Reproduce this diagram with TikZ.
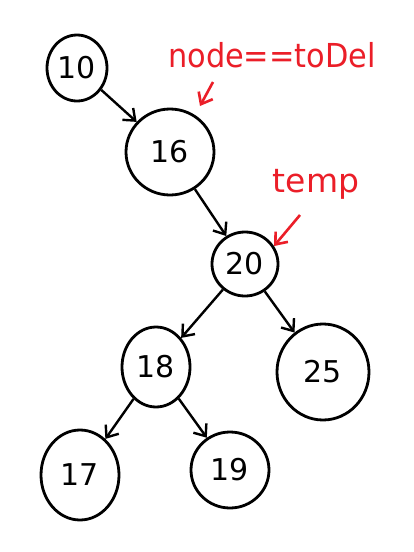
\documentclass[tikz,border=0pt]{standalone}
\usepackage{fontspec}
\setmainfont{DejaVu Sans}
\usetikzlibrary{shapes.geometric,arrows.meta}
\definecolor{penred}{RGB}{235,30,40}
\tikzset{
  treenode/.style={ellipse,draw=black,line width=2.8pt,inner sep=0pt,
    font=\fontsize{30}{30}\selectfont},
  edge/.style={draw=black,line width=2.4pt,-{Straight Barb[length=10pt,width=16pt]}},
  note/.style={text=penred,font=\fontsize{33}{33}\selectfont},
  pointer/.style={draw=penred,line width=2.6pt,-{Straight Barb[length=10pt,width=16pt]}}
}
\begin{document}
\begin{tikzpicture}[x=1pt,y=-1pt]
  \useasboundingbox[fill=white] (0,0) rectangle (413,552);
  \node[treenode,minimum width=60pt,minimum height=66pt] (n10) at (77,68) {10};
  \node[treenode,minimum width=88pt,minimum height=86pt] (n16) at (170,152) {16};
  \node[treenode,minimum width=66pt,minimum height=64pt] (n20) at (245,264) {20};
  \node[treenode,minimum width=68pt,minimum height=80pt] (n18) at (156,367) {18};
  \node[treenode,minimum width=92pt,minimum height=96pt] (n25) at (323,372) {25};
  \node[treenode,minimum width=78pt,minimum height=90pt] (n17) at (80,475) {17};
  \node[treenode,minimum width=78pt,minimum height=76pt] (n19) at (230,470) {19};

  \draw[edge] (n10) -- (n16);
  \draw[edge] (n16) -- (n20);
  \draw[edge] (n20) -- (n18);
  \draw[edge] (n20) -- (n25);
  \draw[edge] (n18) -- (n17);
  \draw[edge] (n18) -- (n19);

  \node[note,xscale=0.92] (del) at (272,55) {node==toDel};
  \node[note] (tmp) at (316,184) {temp};
  \coordinate (delTip) at (200,106);
  \coordinate (tmpTip) at (274,246);
  \draw[pointer] (213,82) -- (delTip);
  \draw[pointer] (300,215) -- (tmpTip);
\end{tikzpicture}
\end{document}
